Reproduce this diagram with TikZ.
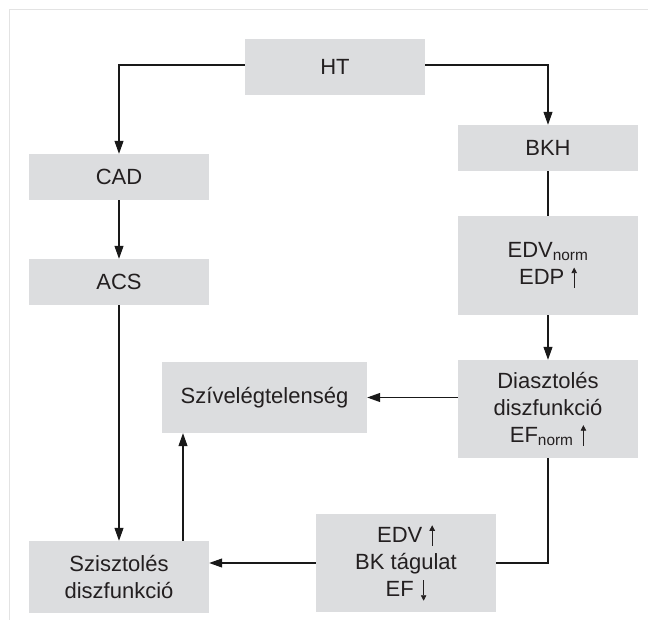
\documentclass[tikz,border=0pt]{standalone}
\usepackage{fontspec}
\setmainfont{Liberation Sans}
\usetikzlibrary{arrows.meta,calc}
\definecolor{boxgray}{HTML}{DCDDDF}
\definecolor{txtgray}{HTML}{231F20}
\definecolor{framegray}{HTML}{E3E3E3}
\newcommand{\uparr}{\hspace{1pt}\tikz[baseline=0pt,x=1pt,y=1pt]\draw[txtgray,line width=0.8pt,-{Triangle[length=5.5pt,width=5.5pt]}] (0,-3.5) -- (0,17);}
\newcommand{\downarr}{\hspace{1pt}\tikz[baseline=0pt,x=1pt,y=1pt]\draw[txtgray,line width=0.8pt,-{Triangle[length=5.5pt,width=5.5pt]}] (0,16) -- (0,-4.5);}
\begin{document}
\begin{tikzpicture}[x=1pt,y=-1pt,
  box/.style={fill=boxgray,draw=none,text=txtgray,align=center,inner sep=0pt,
    font=\fontsize{22}{27}\selectfont,minimum width=180pt},
  conn/.style={line width=1.1pt,draw=black!90},
  arr/.style={conn,-{Triangle[length=13pt,width=9pt]}}]
\useasboundingbox (0,0) rectangle (648,620);
\draw[framegray,line width=1.5pt] (9.5,620) -- (9.5,9.5) -- (648,9.5);
\node[box,minimum height=56pt] (HT) at (335,67) {HT};
\node[box,minimum height=46pt] (CAD) at (119,177) {CAD};
\node[box,minimum height=46pt] (ACS) at (119,282) {ACS};
\node[box,minimum height=46pt] (BKH) at (548,148) {BKH};
\node[box,minimum height=99pt] (EDVn) at (548,265.5) {EDV\textsubscript{norm}\\EDP \uparr};
\node[box,minimum height=98pt] (Dia) at (548,409) {Diasztolés\\diszfunkció\\EF\textsubscript{norm} \uparr};
\node[box,minimum width=205pt,minimum height=71pt] (Sziv) at (264.5,397.5) {Szívelégtelenség};
\node[box,minimum height=98pt] (EDV) at (406,563) {EDV \uparr\\BK tágulat\\EF \downarr};
\node[box,minimum height=72pt] (Szi) at (119,577) {Szisztolés\\diszfunkció};
\draw[arr] ([yshift=2pt]HT.west) -| (CAD.north);
\draw[arr] ([yshift=2pt]HT.east) -| (BKH.north);
\draw[arr] (CAD.south) -- (ACS.north);
\draw[arr] (ACS.south) -- (Szi.north);
\draw[conn] (BKH.south) -- (EDVn.north);
\draw[arr] (EDVn.south) -- (Dia.north);
\draw[arr] (Sziv.east -| Dia.west) -- (Sziv.east);
\draw[conn] (Dia.south) |- (EDV.east);
\draw[arr] (EDV.west) -- (EDV.west -| Szi.east);
\draw[arr] ([xshift=64pt]Szi.north) -- ([xshift=64pt]Szi.north |- Sziv.south);
\end{tikzpicture}
\end{document}
